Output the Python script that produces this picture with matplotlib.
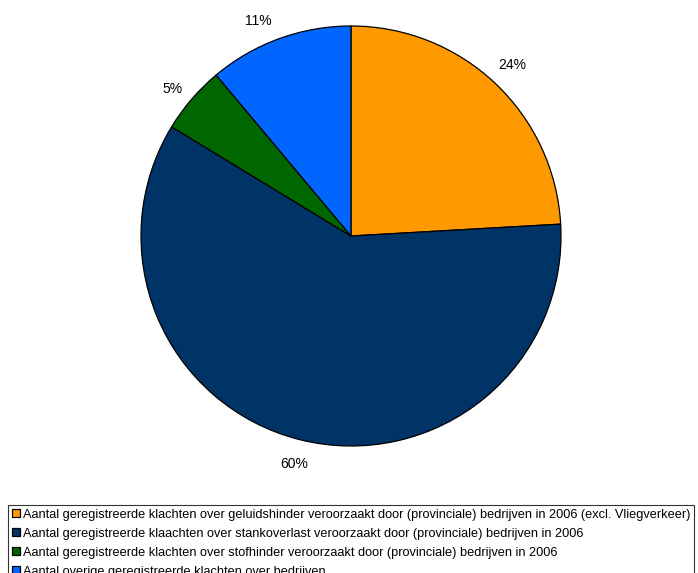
import matplotlib

matplotlib.use("Agg")
import matplotlib.pyplot as plt

plt.rcParams["font.family"] = ["Liberation Sans", "DejaVu Sans"]

# share of registered complaints about companies, 2006
categories = [
    "Aantal geregistreerde klachten over geluidshinder veroorzaakt door (provinciale) bedrijven in 2006 (excl. Vliegverkeer)",
    "Aantal geregistreerde klaachten over stankoverlast veroorzaakt door (provinciale) bedrijven in 2006",
    "Aantal geregistreerde klachten over stofhinder veroorzaakt door (provinciale) bedrijven in 2006",
    "Aantal overige geregistreerde klachten over bedrijven",
]
shares = [24.1, 59.6, 5.2, 11.1]
colors = ["#FF9900", "#003366", "#006600", "#0066FF"]

W, H = 698, 573
fig = plt.figure(figsize=(W / 100, H / 100), dpi=100)

cx, cy, r = 351, 236, 210
ax = fig.add_axes([(cx - r) / W, (H - cy - r) / H, 2 * r / W, 2 * r / H])
wedges, texts, autotexts = ax.pie(
    shares,
    colors=colors,
    startangle=90,
    counterclock=False,
    autopct="%.0f%%",
    pctdistance=1.12,
    wedgeprops={"edgecolor": "black", "linewidth": 0.9},
    textprops={"fontsize": 10, "color": "black"},
)
# nudge labels towards where the original chart put them
autotexts[2].set_position((autotexts[2].get_position()[0], autotexts[2].get_position()[1] - 0.03))
autotexts[3].set_position((autotexts[3].get_position()[0] - 0.06, autotexts[3].get_position()[1] - 0.03))
ax.set_xlim(-1, 1)
ax.set_ylim(-1, 1)
ax.axis("off")

leg = fig.legend(
    wedges,
    categories,
    loc="upper left",
    bbox_to_anchor=(8 / W, 1 - 505 / H),
    fontsize=9.2,
    frameon=True,
    fancybox=False,
    edgecolor="black",
    handlelength=0.6,
    handleheight=0.6,
    handletextpad=0.25,
    labelspacing=0.55,
    borderpad=0.3,
    borderaxespad=0,
)
leg.get_frame().set_linewidth(0.8)

fig.savefig("out.png", dpi=100)
